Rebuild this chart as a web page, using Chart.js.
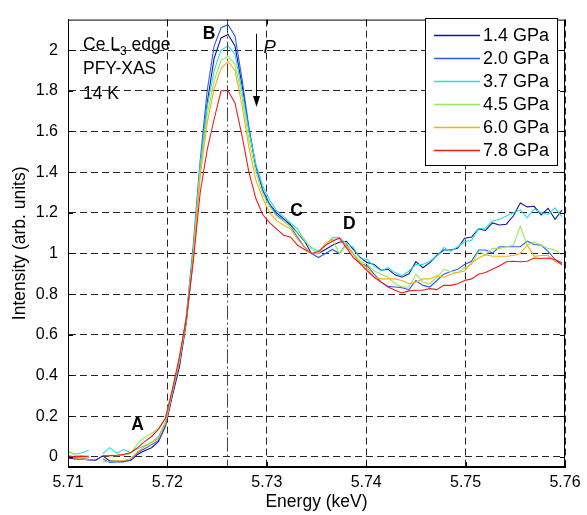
<!DOCTYPE html>
<html><head><meta charset="utf-8">
<script src="https://cdn.jsdelivr.net/npm/chart.js@4.4.1/dist/chart.umd.min.js"></script>
<style>html,body{margin:0;padding:0;background:#fff;}#wrap{width:587px;height:515px;}</style>
</head><body><div id="wrap"><canvas id="c" width="587" height="515"></canvas></div>
<script>
// ---------- data ----------
const energy = [5.7100,5.7107,5.7114,5.7121,5.7128,5.7135,5.7142,5.7149,5.7156,5.7163,
5.7170,5.7177,5.7184,5.7191,5.7198,5.7205,5.7212,5.7219,5.7226,5.7233,
5.7240,5.7247,5.7254,5.7261,5.7268,5.7275,5.7282,5.7289,5.7296,5.7303,
5.7310,5.7317,5.7324,5.7331,5.7338,5.7345,5.7352,5.7359,5.7366,5.7373,
5.7380,5.7387,5.7394,5.7401,5.7408,5.7415,5.7422,5.7429,5.7436,5.7443,
5.7450,5.7457,5.7464,5.7471,5.7478,5.7485,5.7492,5.7499,5.7506,5.7513,
5.7520,5.7527,5.7534,5.7541,5.7548,5.7555,5.7562,5.7569,5.7576,5.7583,
5.7590,5.7597];

const p1_4 = [-0.005,-0.01,-0.012,-0.015,-0.016,0.005,-0.02,-0.022,-0.022,-0.018,
0.012,0.03,0.045,0.075,0.15,0.30,0.44,0.66,0.98,1.42,
1.74,1.96,2.06,2.077,2.02,1.83,1.61,1.43,1.31,1.24,
1.20,1.17,1.14,1.10,1.06,1.00,1.00,1.02,1.04,1.055,
1.06,1.02,0.98,0.955,0.946,0.917,0.922,0.895,0.883,0.90,
0.96,0.93,0.955,0.99,1.017,1.017,1.025,1.075,1.081,1.121,
1.113,1.15,1.14,1.144,1.184,1.248,1.229,1.232,1.19,1.222,
1.168,1.213];

const p2_0 = [0.0,-0.005,-0.008,-0.012,null,-0.01,-0.028,-0.025,-0.025,-0.015,
0.02,0.04,0.06,0.08,0.155,0.31,0.46,0.69,1.04,1.46,
1.80,2.02,2.11,2.125,2.07,1.86,1.62,1.43,1.31,1.24,
1.19,1.16,1.13,1.08,1.03,1.00,0.98,1.00,1.02,1.00,
1.045,1.00,0.95,0.94,0.898,0.859,0.838,0.835,0.832,0.822,
0.867,0.843,0.835,0.867,0.898,0.911,0.922,0.946,0.962,1.017,
1.017,1.002,1.033,1.033,1.033,1.033,1.06,1.044,1.041,1.01,
0.97,0.954];

const p3_7 = [0.025,0.013,0.02,0.032,null,0.015,0.045,0.018,0.037,0.02,
0.04,0.055,0.07,0.10,0.17,0.32,0.47,0.68,1.00,1.44,
1.72,1.90,2.00,2.02,1.98,1.80,1.60,1.44,1.33,1.26,
1.21,1.18,1.15,1.12,1.06,1.03,1.01,1.04,1.08,1.08,
1.05,1.03,0.975,0.97,0.938,0.914,0.93,0.906,0.89,0.914,
0.946,0.946,0.962,0.986,1.029,1.01,1.033,1.057,1.065,1.121,
1.125,1.16,1.168,1.184,1.20,1.213,1.176,1.219,1.20,1.192,
1.224,1.181];

const p4_5 = [0.03,0.008,0.006,0.005,null,0.006,0.005,0.006,0.008,0.015,
0.065,0.095,0.115,0.14,0.19,0.33,0.48,0.68,1.00,1.40,
1.68,1.85,1.95,1.97,1.93,1.77,1.56,1.40,1.29,1.23,
1.18,1.16,1.13,1.10,1.07,1.02,1.00,1.04,1.07,1.00,
1.04,1.00,0.96,0.95,0.914,0.898,0.883,0.851,0.835,0.835,
0.898,0.86,0.851,0.883,0.922,0.911,0.906,0.93,0.946,1.01,
0.994,1.025,1.025,1.033,1.04,1.133,1.041,1.057,1.041,1.025,
1.017,0.994];

const p6_0 = [-0.002,-0.006,-0.01,-0.015,null,-0.025,-0.022,-0.02,-0.018,-0.01,
0.025,0.05,0.072,0.09,0.165,0.32,0.47,0.67,0.98,1.38,
1.64,1.81,1.91,1.945,1.90,1.73,1.52,1.36,1.27,1.20,
1.16,1.14,1.12,1.07,1.03,1.00,1.00,1.05,1.07,1.075,
1.04,0.995,0.955,0.93,0.883,0.875,0.875,0.875,0.867,0.851,
0.859,0.875,0.875,0.89,0.883,0.898,0.906,0.914,0.954,0.978,
0.994,0.986,0.986,0.986,0.99,1.00,1.041,0.986,0.99,0.99,
0.962,0.943];

const p7_8 = [0.005,0.0,0.002,0.0,null,0.005,0.006,0.008,0.012,0.02,
0.045,0.075,0.10,0.135,0.19,0.33,0.49,0.68,0.96,1.30,
1.51,1.66,1.80,1.80,1.74,1.58,1.40,1.27,1.19,1.15,
1.12,1.09,1.08,1.04,1.02,1.00,1.01,1.04,1.06,1.075,
1.03,0.98,0.95,0.915,0.883,0.859,0.835,0.819,0.806,0.816,
0.819,0.819,0.827,0.822,0.843,0.843,0.851,0.867,0.875,0.898,
0.906,0.922,0.938,0.959,0.962,0.959,0.962,0.978,0.975,0.978,
0.97,0.946];

const seriesLabels = ['1.4 GPa','2.0 GPa','3.7 GPa','4.5 GPa','6.0 GPa','7.8 GPa'];
const seriesValues = [p1_4, p2_0, p3_7, p4_5, p6_0, p7_8];
const seriesColors = ['#14149c','#2b5cf0','#27dde6','#93ea5c','#ffab12','#ec1c1c'];

const xTicks = [5.71,5.72,5.73,5.74,5.75,5.76];
const xTickLabels = ['5.71','5.72','5.73','5.74','5.75','5.76'];
const yTicks = [0,0.2,0.4,0.6,0.8,1,1.2,1.4,1.6,1.8,2];
const yTickLabels = ['0','0.2','0.4','0.6','0.8','1','1.2','1.4','1.6','1.8','2'];
const peakLineE = 5.726;
const pointLabels = [ {t:'A', e:5.7170, v:0.157}, {t:'B', e:5.7242, v:2.077}, {t:'C', e:5.7330, v:1.208}, {t:'D', e:5.7383, v:1.146} ];
const infoLines = ['PFY-XAS','14 K'];

// ---------- chart ----------
const FONT = "Arial, 'Liberation Sans', sans-serif";
const FS = 16;     // tick labels
const FT = 17.5;   // titles / annotations
const FL = 18;     // legend

const datasets = seriesValues.map((vals, k) => ({
  label: seriesLabels[k],
  data: energy.map((e, i) => ({x: e, y: vals[i]})),
  borderColor: seriesColors[k],
  backgroundColor: seriesColors[k],
  borderWidth: 1.1,
  pointRadius: 0,
  tension: 0,
  spanGaps: false,
  order: seriesValues.length - k
}));

const deco = {
  id: 'deco',
  afterDatasetsDraw(chart) {
    const {ctx, chartArea: a, scales: {x, y}} = chart;
    ctx.save();
    // dash-dot line at peak B
    const px = Math.round(x.getPixelForValue(peakLineE)) + 0.5;
    ctx.strokeStyle = '#444'; ctx.lineWidth = 1; ctx.setLineDash([14, 3, 2, 3]);
    ctx.beginPath(); ctx.moveTo(px, a.top); ctx.lineTo(px, a.bottom); ctx.stroke();
    ctx.setLineDash([]);
    // frame
    ctx.strokeStyle = '#000'; ctx.lineWidth = 1;
    ctx.strokeRect(a.left + 0.5, a.top + 0.5, a.right - a.left - 1, a.bottom - a.top - 1);
    // inward ticks
    ctx.beginPath();
    xTicks.forEach(v => {
      const p = Math.round(x.getPixelForValue(v)) + 0.5;
      ctx.moveTo(p, a.bottom); ctx.lineTo(p, a.bottom - 5);
      ctx.moveTo(p, a.top); ctx.lineTo(p, a.top + 5);
    });
    yTicks.forEach(v => {
      const p = Math.round(y.getPixelForValue(v)) + 0.5;
      ctx.moveTo(a.left, p); ctx.lineTo(a.left + 5, p);
      ctx.moveTo(a.right, p); ctx.lineTo(a.right - 5, p);
    });
    ctx.stroke();

    // info text
    ctx.fillStyle = '#000';
    ctx.textBaseline = 'alphabetic';
    ctx.textAlign = 'left';
    ctx.font = FT + 'px ' + FONT;
    let tx = a.left + 15, ty = a.top + 30;
    ctx.fillText('Ce L', tx, ty);
    let w = ctx.measureText('Ce L').width;
    ctx.font = Math.round(FT * 0.7) + 'px ' + FONT;
    ctx.fillText('3', tx + w, ty + 5);
    const w3 = ctx.measureText('3').width;
    ctx.font = FT + 'px ' + FONT;
    ctx.fillText(' edge', tx + w + w3, ty);
    infoLines.forEach((s, i) => ctx.fillText(s, tx, ty + 24.5 * (i + 1)));

    // point labels
    ctx.font = 'bold ' + FT + 'px ' + FONT;
    ctx.textAlign = 'center'; ctx.textBaseline = 'middle';
    pointLabels.forEach(l => ctx.fillText(l.t, x.getPixelForValue(l.e), y.getPixelForValue(l.v)));

    // pressure arrow
    const ax = Math.round(x.getPixelForValue(5.7289)) + 0.5;
    const ay0 = y.getPixelForValue(2.08), ay1 = y.getPixelForValue(1.72);
    ctx.beginPath(); ctx.moveTo(ax, ay0); ctx.lineTo(ax, ay1 - 8); ctx.stroke();
    ctx.beginPath(); ctx.moveTo(ax, ay1); ctx.lineTo(ax - 3.5, ay1 - 11); ctx.lineTo(ax + 3.5, ay1 - 11); ctx.closePath(); ctx.fill();
    ctx.font = 'italic ' + (FT + 1) + 'px ' + FONT;
    ctx.fillText('P', x.getPixelForValue(5.7303), y.getPixelForValue(2.01));

    // legend
    const lx = 425, ly = 18, lw = 132, lh = 147;
    ctx.fillStyle = '#fff';
    ctx.fillRect(lx, ly, lw, lh);
    ctx.strokeStyle = '#000';
    ctx.strokeRect(lx + 0.5, ly + 0.5, lw, lh);
    ctx.font = FL + 'px ' + FONT;
    ctx.textAlign = 'left'; ctx.textBaseline = 'middle';
    seriesLabels.forEach((s, i) => {
      const ry = ly + 17 + i * 23;
      ctx.strokeStyle = seriesColors[i]; ctx.lineWidth = 1.3;
      ctx.beginPath(); ctx.moveTo(lx + 9, ry + 0.5); ctx.lineTo(lx + 55, ry + 0.5); ctx.stroke();
      ctx.fillStyle = '#000';
      ctx.fillText(s, lx + 58, ry + 1);
    });
    ctx.restore();
  }
};

new Chart(document.getElementById('c'), {
  type: 'line',
  data: { datasets },
  options: {
    responsive: false,
    animation: false,
    devicePixelRatio: 1,
    layout: { padding: { top: 11, right: 22, left: 0, bottom: 0 } },
    plugins: { legend: { display: false }, tooltip: { enabled: false } },
    scales: {
      x: {
        type: 'linear', min: 5.71, max: 5.76,
        afterBuildTicks: s => { s.ticks = xTicks.map(v => ({ value: v })); },
        afterFit: s => { s.height = 48; },
        ticks: { callback: (v) => xTickLabels[xTicks.findIndex(t => Math.abs(t - v) < 1e-6)], color: '#000', font: { family: FONT, size: FS }, padding: 6, maxRotation: 0, autoSkip: false },
        grid: { color: 'rgba(0,0,0,0.85)', lineWidth: 1, drawTicks: false },
        border: { display: true, color: '#000', dash: [7, 4] },
        title: { display: true, text: 'Energy (keV)', color: '#000', font: { family: FONT, size: FT }, padding: { top: 0, bottom: 2 } }
      },
      y: {
        type: 'linear', min: -0.05, max: 2.15,
        afterBuildTicks: s => { s.ticks = yTicks.map(v => ({ value: v })); },
        afterFit: s => { s.width = 68; },
        ticks: { callback: (v) => yTickLabels[yTicks.findIndex(t => Math.abs(t - v) < 1e-6)], color: '#000', font: { family: FONT, size: FS }, padding: 10, autoSkip: false },
        grid: { color: 'rgba(0,0,0,0.85)', lineWidth: 1, drawTicks: false },
        border: { display: true, color: '#000', dash: [7, 4] },
        title: { display: true, text: 'Intensity (arb. units)', color: '#000', font: { family: FONT, size: FT }, padding: { top: 10, bottom: 0 } }
      }
    }
  },
  plugins: [deco]
});
</script>
</body></html>
